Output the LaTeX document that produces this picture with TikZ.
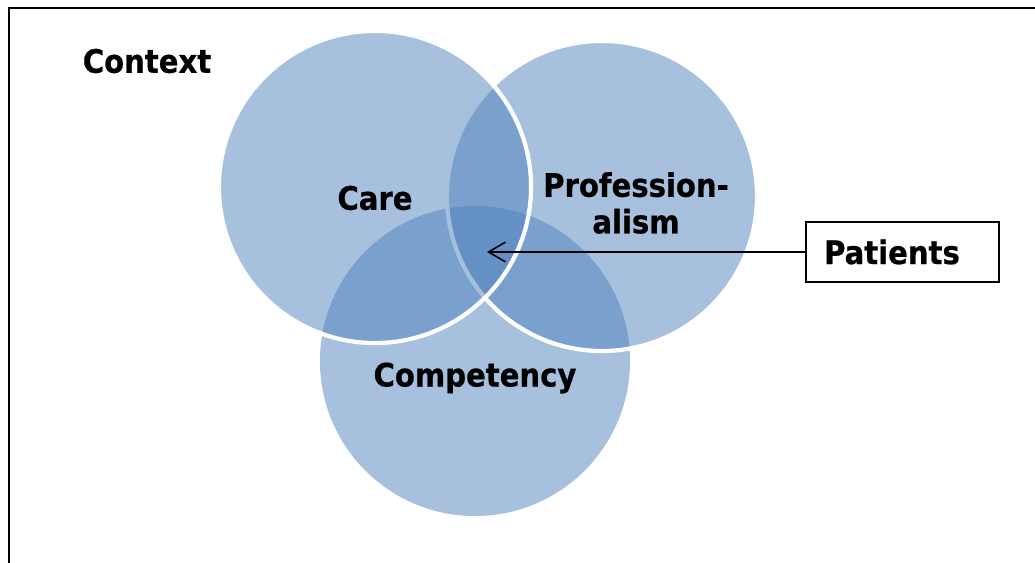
\documentclass[tikz,border=0pt]{standalone}
\usepackage{fontspec}
\setmainfont[BoldFeatures={FakeBold=0.6}]{DejaVu Sans Condensed}
\usetikzlibrary{arrows.meta}
\definecolor{vennblue}{HTML}{4F81BD}

\begin{document}
\begin{tikzpicture}[x=0.025cm,y=-0.025cm,
	venn/.style={circle,inner sep=0pt,minimum size=7.75cm,fill=vennblue,fill opacity=.5},
	rim/.style={venn,draw=white,line width=3pt},
	lbl/.style={font=\bfseries\fontsize{23}{26}\selectfont,align=center}]
	\useasboundingbox (0,0) rectangle (1035,563);
	% frame, open to the right and bottom
	\draw[line width=1.6pt] (9,563) -- (9,8) -- (1035,8);
	
	\node[venn] (comp) at (475,361) {};
	\node[rim] (prof) at (602,196) {};
	\node[rim,minimum size=7.8cm] (care) at (375,187) {};
	
	\node[lbl] (ctx) at (147,61) {Context};
	\node[lbl] (carelbl) at (375,198) {Care};
	\node[lbl] (proflbl) at (636,203) {Profession-\\alism};
	\node[lbl] (complbl) at (475,378) {Competency};
	
	\node[draw,line width=1pt,minimum width=193*0.025cm,minimum height=60*0.025cm] (pat) at (902.5,252) {};
	\node[lbl] (patlbl) at (892,252) {Patients};
	\coordinate (hub) at (487,252);
	\draw[-{Straight Barb[length=12pt,width=14pt]},line width=1.1pt] (pat.west) -- (hub);
\end{tikzpicture}
\end{document}
